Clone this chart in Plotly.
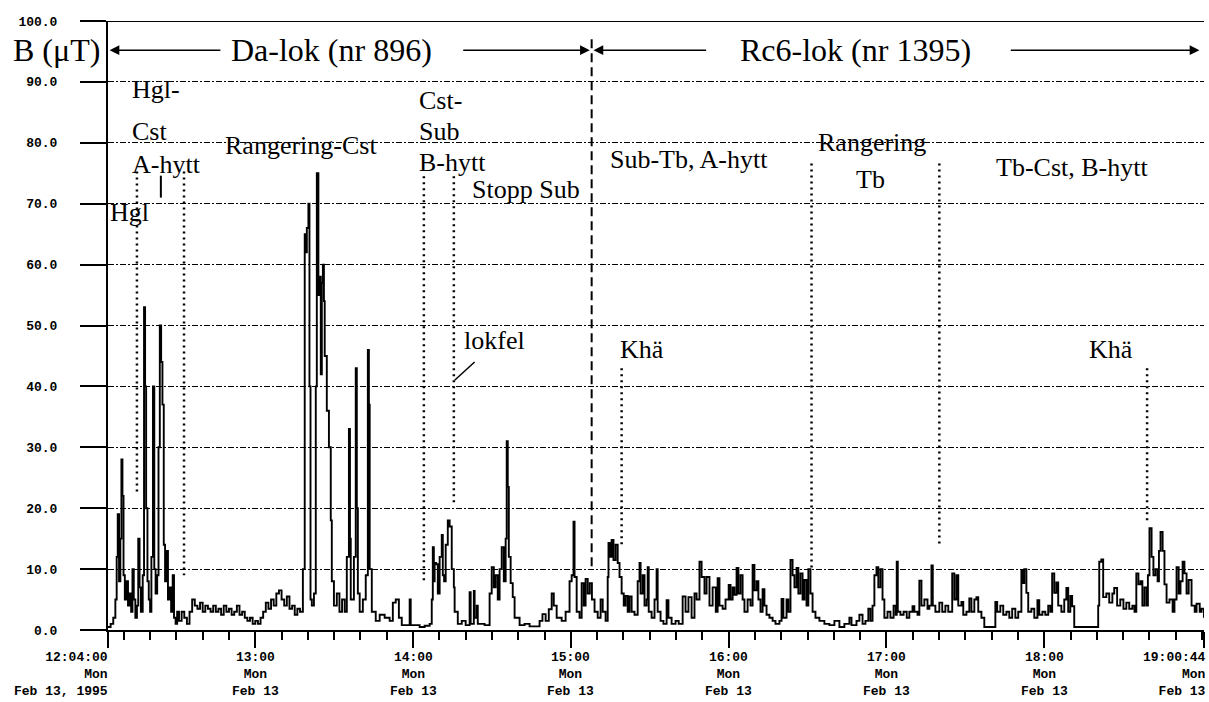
import pandas as pd
import plotly.graph_objects as go

START = pd.Timestamp("1995-02-13 12:04:00")
END = pd.Timestamp("1995-02-13 19:00:44")

# ---- data: minutes after 12:04:00 and magnetic field B (uT) ----
da_min = [0, 1, 2, 2.8, 3.3, 3.7, 4.2, 4.7, 5.1, 5.5, 5.9, 6.4, 7, 7.6, 8.2, 8.8, 9.3, 9.8, 10.4, 11, 11.5, 12, 12.5,
          13.2, 13.7, 14.1, 14.5, 15, 15.5, 16, 16.5, 17.1, 17.6, 18.1, 18.7, 19.2, 19.7, 20.2, 20.7, 21.2, 21.7,
          22.3, 22.8, 23.4, 24, 24.6, 25.1, 25.7, 26.3,
          27, 28, 29, 30, 31, 32, 33, 34, 35, 36, 37, 38, 39, 40, 41, 42, 43, 44, 45, 46, 47, 48, 49, 50, 51, 52,
          53, 54, 55, 56, 57, 58, 59, 60, 61, 62, 63, 64, 65, 66, 67, 68, 69, 70, 71, 72, 73,
          74.1, 74.8, 75.2, 75.6, 76.2, 76.6, 77, 77.5, 78.3, 79, 79.4, 80, 80.5, 80.9, 81.3, 81.7, 82.1, 82.4,
          83.2, 84, 84.7, 85.1, 85.9, 87, 88, 89, 90, 90.8, 91.6, 92, 92.3, 93.5, 94.2, 94.6, 95, 95.7, 96.9, 98,
          98.8, 99.2, 99.5, 100.3, 101.8, 103.3, 105.2, 107.1, 108.3, 109.4, 110.6, 111.7, 114.7, 115.1, 118.5,
          120.4,
          122.3, 123.1, 123.5, 123.9, 124.2, 124.8, 125.4, 126.1, 126.9, 127.3, 127.8, 128.4, 129.2, 129.9, 130.7,
          131.5, 131.8, 133, 134.5, 136, 137.5, 137.9, 139.1, 139.4, 140.2, 140.6, 143.2,
          145.1, 145.9, 146.7, 147.4, 148.2, 148.9, 149.7, 150.5, 151.2, 151.6, 152, 152.4, 153.1, 153.9, 154.6,
          156.5, 158.4, 160.3, 164.1, 165.2, 166.4, 167.6, 168.7, 169.5, 170.6, 172.5, 174, 175.5, 176.3, 177,
          177.4, 178.2, 179.3, 180.1, 180.9, 181.6, 182.4, 183.2, 184]
da_val = [0.5, 1, 2, 5, 12, 19, 8, 15, 28, 22, 9, 5, 8, 4, 6, 3, 10, 5, 2, 4, 15, 7, 3,
          9, 53, 40, 20, 8, 5, 3, 12, 40, 10, 6, 9, 30, 50, 44, 37, 14, 8,
          13, 5, 7, 3, 9, 2, 1, 3,
          1.5, 3, 2, 1, 3, 5, 4, 3.5, 4.5, 3, 4, 3.5, 3, 4, 3, 3.5, 2.5, 4, 3, 3.5, 2.5, 3, 4, 2.5, 3, 2,
          1.5, 2, 1, 1.5, 1, 2, 3, 4.5, 3.5, 5, 4, 6, 6.5, 5, 4, 5.5, 3.5, 4, 2.5, 3.5, 3,
          10, 65, 62, 66, 70, 40, 5, 4, 6, 40, 75, 55, 58, 42, 57, 60, 54, 45,
          36, 30, 18, 8, 4, 6, 3, 5, 3, 12, 33, 15, 5, 12, 43, 20, 6, 3, 5, 9,
          46, 37, 10, 3, 1.5, 2.5, 2, 1.5, 4.5, 5, 2, 0.8, 5, 0.8, 0.5,
          0.7,
          1, 5, 13.6, 8, 11, 10.8, 6, 12, 15.6, 9, 8, 14, 18, 17, 10,
          7, 3, 1, 1.5, 0.8, 6.2, 1, 6.4, 2, 4, 1, 0.8,
          6, 10.3, 7, 9, 5, 10, 13.6, 8, 15, 31, 23.5, 12, 7.7, 5.4, 2,
          0.8, 1, 0.6, 1.5, 2.6, 1.5, 3.4, 6, 4, 2, 1.5, 3, 8, 9, 17.8,
          8.7, 3, 2, 7.7, 4, 8.4, 6, 7.7, 5]

rc_min = [185, 186.2, 187.3, 188.1, 189.2,
          190, 190.3, 190.9, 191.5, 192.2, 193, 193.8, 194.5, 195.3, 196.1, 196.8, 197.6, 198.3, 199.1, 200.2,
          201.4, 202.1, 202.5, 203.3, 204, 204.8, 205.2, 205.6, 206.7, 207.8, 208.6, 209, 210.1, 211.2, 212.4,
          213.1, 214.3, 215.8, 217, 218.5, 219.6, 220.7, 221.9, 223, 223.8, 224.9, 225.7, 226.8, 227.6, 228.7,
          229.9, 231.1, 231.8, 232.5, 233.7, 234.8, 236, 236.7, 237.5, 238.2, 239, 239.7, 240.5, 241.3, 242,
          243.2, 244.3, 245.1, 245.8, 246.6, 247.3, 248.1, 248.9, 249.6, 250.4, 251.5, 252.7, 253.8, 255.3,
          256.1, 256.8, 258, 258.7, 259.5, 260.3, 261, 261.8, 262.5, 263.3, 264.1, 264.8, 265.6, 266.3, 267.1,
          267.9, 269, 270.5, 272.4, 274.3, 276.2, 278.1, 280, 281.9, 282.7, 284.6, 285.7, 286.9, 288, 289.1,
          289.9, 290.7, 291.4, 292.2, 292.9, 293.7, 294.5, 295.2, 296.4, 297.5, 298.7, 299.5, 299.9, 300.3,
          301.3, 302.5, 303.7, 304.7, 305.9, 306.6, 307.8, 308.5, 309.3, 310.4, 311.6, 312.3, 313.1, 313.6,
          314.6, 316.1, 317.2, 318.4, 319.5, 321, 321.8, 322.6, 323.3, 324.5, 325.2, 326.4, 327.5, 328.3, 329.4,
          330.2, 330.9, 332.1, 333.2, 336.6, 337.4, 338.1, 339.3, 340.4, 341.6, 342.7, 343.8, 345, 346.1, 347.3,
          348, 348.4, 349.2, 349.9, 351.1, 352.2, 353.4, 354.1, 355.3, 356.4, 357.5, 358.3, 359, 359.8, 360.6,
          361.3, 362.5, 363.6, 364.4, 365.1, 365.9, 366.6, 367.4, 375.8, 376.5, 376.9, 377.7, 378.4, 379.6,
          380.7, 381.9, 382.6, 383.7, 384.9, 386.1, 387.2, 388.3, 389.5, 390.3, 391, 391.8, 392.6, 393.3, 394.1,
          394.9, 395.4, 396, 396.8, 397.5, 398.3, 399.1, 399.6, 400.2, 401, 401.7, 402.5, 403.6, 404.8, 405.5,
          406.3, 407.1, 407.8, 408.6, 409.3, 410.1, 410.9, 412, 413.2, 413.9, 415.1, 415.8, 416.7]
rc_val = [3, 2, 5, 3, 1.5,
          8.7, 14.3, 12, 14.8, 11.5, 14, 11, 8.7, 6, 4, 5.6, 3, 5.5, 3, 2.5,
          8, 11, 6, 9, 4, 5, 10.3, 3, 2, 5, 10, 3, 1.5, 1, 4.9,
          2, 1, 1.5, 1, 5.5, 3, 5.4, 2, 6, 5, 11.2, 8.7, 6, 8.7, 4,
          7, 3, 8.5, 4, 3.5, 5, 7.4, 5, 7, 5.8, 10.2, 6, 9, 5, 3,
          5, 4, 10.7, 6.5, 8, 5, 3, 6.7, 4, 2.5, 2, 1.5, 1, 1.5,
          5.1, 2, 5, 3, 11.5, 9, 7, 10.2, 6, 9.3, 5, 8.2, 4, 10, 6,
          3, 2, 1.5, 1, 0.8, 1.5, 0.5, 1, 2, 0.8, 1.5, 2.5, 1, 1.5, 3.5,
          1.5, 4, 9, 10.3, 7, 10, 5, 2, 3, 2, 4, 2.5, 11.2, 3,
          2.5, 3, 2, 3, 3.9, 3, 2.5, 8.1, 4, 5, 3.5, 4, 10.6, 4,
          3, 4.5, 3, 4, 3, 9.3, 5, 9, 4, 4.6, 2.5, 3, 5.2, 3, 5,
          5.4, 3, 2, 0.5, 0.5, 4.6, 3, 4, 2.5, 3, 2, 3.5, 2, 3, 9.8,
          7.7, 10, 6.1, 3, 3.5, 2, 4.9, 2.5, 3, 2.5, 4, 3, 9.3, 6.1, 7.8,
          4, 3, 5, 6.9, 3, 5.6, 3.9, 0.5, 0.5, 4, 11.2, 11.6, 5.4, 6, 4.5,
          6, 6.9, 4, 5, 3.5, 4.5, 3.5, 4, 3, 9.3, 7.5, 8, 4, 7, 4,
          9, 16.7, 12, 9, 10, 8, 13, 16.1, 13, 7.5, 4.5, 5, 3, 5, 10.3,
          6, 8, 11.2, 9.3, 6, 8.2, 4, 3, 4.3, 3, 3.5, 2, 2]

y_tick_vals = [0, 10, 20, 30, 40, 50, 60, 70, 80, 90, 100]
y_tick_text = ["0.0", "10.0", "20.0", "30.0", "40.0", "50.0", "60.0", "70.0", "80.0", "90.0", "100.0"]

x_tick_times = ["12:04:00", "13:00:00", "14:00:00", "15:00:00", "16:00:00", "17:00:00", "18:00:00", "19:00:44"]
x_tick_text = ["12:04:00<br>Mon<br>Feb 13, 1995", "13:00<br>Mon<br>Feb 13", "14:00<br>Mon<br>Feb 13",
               "15:00<br>Mon<br>Feb 13", "16:00<br>Mon<br>Feb 13", "17:00<br>Mon<br>Feb 13",
               "18:00<br>Mon<br>Feb 13", "19:00:44<br>Mon<br>Feb 13"]

# event labels: (text, minutes after start, B value, anchor)
labels = [
    ("Hgl-", 8.4, 88.7, "left"), ("Cst", 8.4, 81.8, "left"), ("A-hytt", 8.4, 76.4, "left"),
    ("Rangering-Cst", 43.7, 79.6, "left"), ("Hgl", 0.0, 68.5, "left"),
    ("Cst-", 117.4, 87.0, "left"), ("Sub", 117.4, 81.8, "left"), ("B-hytt", 117.4, 76.7, "left"),
    ("Stopp Sub", 137.5, 72.3, "left"), ("Sub-Tb, A-hytt", 190.0, 77.2, "left"),
    ("Rangering", 290.6, 80.0, "center"), ("Tb", 289.9, 73.9, "center"),
    ("Tb-Cst, B-hytt", 337.0, 75.9, "left"),
    ("Khä", 193.8, 46.0, "left"), ("Khä", 372.3, 46.0, "left"), ("lokfel", 134.5, 47.5, "left"),
]
# dotted marker lines: (minutes, top B, bottom B)
dotted = [(11.0, 75.3, 22.4), (28.9, 75.3, 9.0), (120.1, 74.5, 8.0), (131.5, 74.5, 20.3),
          (195.3, 43.0, 13.6), (267.5, 76.6, 9.8), (316.1, 76.6, 14.0), (395.1, 43.0, 17.5)]


def t(m):
    return (START + pd.Timedelta(minutes=m)).strftime("%Y-%m-%d %H:%M:%S.%f")


def day(s):
    return "1995-02-13 " + s


minutes = da_min + rc_min
values = da_val + rc_val

fig = go.Figure()
fig.add_trace(go.Scatter(x=[t(m) for m in minutes], y=values, mode="lines",
                         line=dict(color="black", width=1.9, shape="hv"), hoverinfo="skip"))

fig.update_layout(width=1209, height=702, margin=dict(l=108, r=5, t=21, b=72),
                  paper_bgcolor="white", plot_bgcolor="white", showlegend=False)

fig.update_xaxes(type="date", range=[day("12:04:00"), day("19:00:44")], showgrid=False, zeroline=False,
                 showline=True, linecolor="black", linewidth=2,
                 tickmode="array", tickvals=[day(s) for s in x_tick_times], showticklabels=False,
                 ticks="outside", ticklen=16, tickwidth=2, tickcolor="black",
                 minor=dict(ticks="outside", ticklen=8, tickwidth=2, tickcolor="black",
                            dtick=600000, tick0=day("12:00:00"), showgrid=False))

fig.update_yaxes(range=[0, 100], tickmode="array", tickvals=y_tick_vals, ticktext=y_tick_text,
                 ticks="outside", ticklen=26, tickwidth=2, tickcolor="black",
                 showline=True, linecolor="black", linewidth=2, zeroline=False,
                 showgrid=True, gridcolor="black", gridwidth=1, griddash="6px,2px,2px,2px",
                 tickfont=dict(family="Liberation Mono", size=13, color="black", weight="bold"),
                 ticklabelstandoff=20)

# top solid border at 100
fig.add_shape(type="line", xref="x", yref="y", x0=t(0), x1=day("19:00:44"), y0=100, y1=100,
              line=dict(color="black", width=2))

# x tick labels
for i, (tv, txt) in enumerate(zip(x_tick_times, x_tick_text)):
    edge = i == 0 or i == len(x_tick_times) - 1
    fig.add_annotation(x=day(tv), y=0, xref="x", yref="paper", yanchor="top", yshift=-18,
                       xanchor="right" if edge else "center", align="right" if edge else "center",
                       xshift=4 if i == len(x_tick_times) - 1 else 2 if i == 0 else 0,
                       text=txt, showarrow=False,
                       font=dict(family="Liberation Mono", size=13, color="black", weight="bold"))

serif = "Liberation Serif"
# axis title
fig.add_annotation(x=0, y=95.2, xref="paper", yref="y", xanchor="right", yanchor="middle", xshift=-6,
                   text="B (\u03bcT)", showarrow=False, font=dict(family=serif, size=32, color="black"))
# locomotive labels
fig.add_annotation(x=t(84.9), y=95.2, xref="x", yref="y", text="Da-lok (nr 896)", showarrow=False,
                   font=dict(family=serif, size=32, color="black"))
fig.add_annotation(x=t(284.4), y=95.2, xref="x", yref="y", text="Rc6-lok (nr 1395)", showarrow=False,
                   font=dict(family=serif, size=32, color="black"))
# arrows
for tip, tail in [(0.6, 43.3), (183.2, 134.5), (184.6, 228.0), (415.0, 342.7)]:
    fig.add_annotation(x=t(tip), y=95.2, ax=t(tail), ay=95.2, xref="x", yref="y", axref="x", ayref="y",
                       text="", showarrow=True, arrowhead=2, arrowsize=1.3, arrowwidth=1.5,
                       arrowcolor="black")

for txt, m, v, anc in labels:
    fig.add_annotation(x=t(m), y=v, xref="x", yref="y", xanchor=anc, yanchor="middle", text=txt,
                       showarrow=False, font=dict(family=serif, size=26, color="black"))

for m, y0, y1 in dotted:
    fig.add_shape(type="line", xref="x", yref="y", x0=t(m), x1=t(m), y0=y0, y1=y1,
                  line=dict(color="black", width=2.5, dash="2px,4px"))

# locomotive change (dashed)
fig.add_shape(type="line", xref="x", yref="y", x0=t(183.9), x1=t(183.9), y0=97, y1=10,
              line=dict(color="black", width=2, dash="9px,5px"))
# short tick under A-hytt
fig.add_shape(type="line", xref="x", yref="y", x0=t(20.1), x1=t(20.1), y0=74.6, y1=71.0,
              line=dict(color="black", width=2))
# lokfel pointer
fig.add_shape(type="line", xref="x", yref="y", x0=t(131.8), x1=t(139.4), y0=41.0, y1=44.0,
              line=dict(color="black", width=1.5))

fig.write_html("out.html")
